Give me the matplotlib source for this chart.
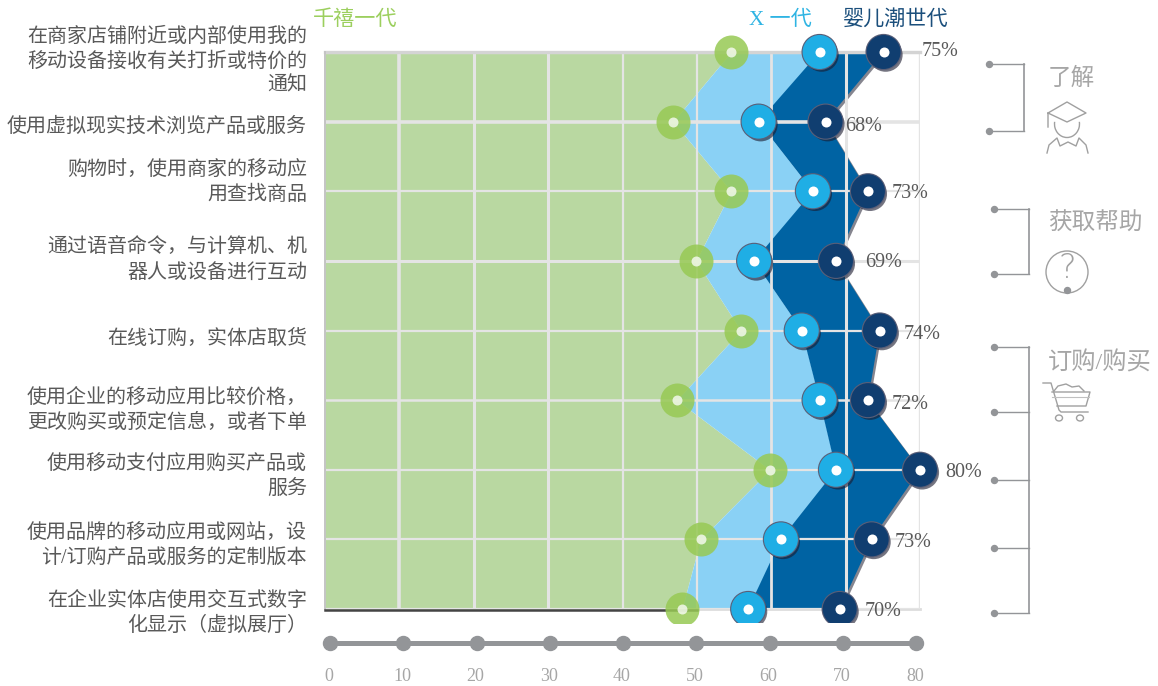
#!/usr/bin/env python

import numpy as np
import matplotlib
matplotlib.use("Agg")
import matplotlib.pyplot as plt
import matplotlib.patheffects as pe
from matplotlib.patches import Circle, Arc, Ellipse, Rectangle

plt.rcParams['font.family'] = ['Liberation Serif', 'Noto Sans CJK SC', 'DejaVu Sans']

categories = [
    "在商家店铺附近或内部使用我的\n移动设备接收有关打折或特价的\n通知",
    "使用虚拟现实技术浏览产品或服务",
    "购物时，使用商家的移动应\n用查找商品",
    "通过语音命令，与计算机、机\n器人或设备进行互动",
    "在线订购，实体店取货",
    "使用企业的移动应用比较价格，\n更改购买或预定信息，或者下单",
    "使用移动支付应用购买产品或\n服务",
    "使用品牌的移动应用或网站，设\n计/订购产品或服务的定制版本",
    "在企业实体店使用交互式数字\n化显示（虚拟展厅）",
]
millennials = [54.6, 46.8, 54.6, 49.9, 55.9, 47.3, 59.8, 50.5, 48.0]
gen_x = [66.5, 58.3, 65.6, 57.7, 64.1, 66.5, 68.7, 61.3, 56.9]
boomers = [75.1, 67.3, 73.0, 68.7, 74.6, 73.0, 80.0, 73.5, 69.2]
boomer_labels = ["75%", "68%", "73%", "69%", "74%", "72%", "80%", "73%", "70%"]
x_ticks = [0, 10, 20, 30, 40, 50, 60, 70, 80]

# layout, in pixels of the 1158x686 picture
W, H = 1158, 686
label_dy = [10, 6, -8, 0, 9, 11, 8, 7, 5]
value_dx = [38, 20, 24, 29, 24, 24, 25, 23, 25]
value_dy = [0, 5, 2, 2, 4, 4, 3, 3, 3]
grid_w = [2.6, 2.2, 2.2, 1.6, 1.6, 2.0, 2.2, 2.4]
row_w = [3, 2.6, 1.6, 2.2, 1.6, 1.8, 1.6, 1.6, 1.6]

GREY = "#939598"
TEXT = "#595959"
SOFT = "#a6a6a6"

def px(n):
    return n * 72.0 / 100

def rect(x0, y0, x1, y1):
    return [x0 / W, 1 - y1 / H, (x1 - x0) / W, (y1 - y0) / H]

def marker_glow():
    return [pe.SimplePatchShadow(offset=(1.5, -2), shadow_rgbFace="#1a1a2e", alpha=0.6),
            pe.Stroke(linewidth=1.6, foreground="#5a5f78"), pe.Normal()]

fig = plt.figure(figsize=(W / 100, H / 100), dpi=100, facecolor="white")

# overlay in picture pixels, for the side notes and icons
over = fig.add_axes([0, 0, 1, 1], zorder=5)
over.set_xlim(0, W)
over.set_ylim(H, 0)
over.axis("off")
over.patch.set_alpha(0)

ax = fig.add_axes(rect(325, 52, 920, 609), zorder=2)
ax.set_xlim(0, 80)
ax.set_ylim(8, 0)
ax.axis("off")
ax.patch.set_alpha(0)

rows = np.arange(len(categories))
soft_shadow = [pe.SimplePatchShadow(offset=(1.5, -1.5), shadow_rgbFace="#222233", alpha=0.55), pe.Normal()]

ax.fill_betweenx(rows, 0, millennials, color="#B9D8A1", lw=0, zorder=1)
ax.fill_betweenx(rows, millennials, gen_x, color="#8AD1F5", lw=0, zorder=1.1)
ax.fill_betweenx(rows, gen_x, boomers, color="#0063A3", lw=0, zorder=1.2,
                 path_effects=soft_shadow)

for t, w in zip(x_ticks[1:], grid_w):
    ax.axvline(t, color="#E4E4E4", lw=w, zorder=2)
for r, w in zip(rows, row_w):
    ax.plot([0, 80], [r, r], color="#E4E4E4", lw=w, zorder=2, solid_capstyle="butt")

# frame with its shadow, top and bottom edges
ax.plot([0, 80], [0, 0], color="#d4d4d4", lw=2.4, zorder=2.1, clip_on=False)
ax.plot([0, 0], [0, 8], color="#c4c4c4", lw=1.4, zorder=2.1, clip_on=False)
ax.plot([0, 50], [8.02, 8.02], color="#444444", lw=1.8, zorder=2.1, clip_on=False)
ax.plot([50, 80], [8.0, 8.0], color="#dddddd", lw=2, zorder=1.9, clip_on=False)

clip = Rectangle((300, 32), 700, 591, transform=over.transData)

ms = px(34)
green = ax.plot(millennials, rows, "o", ms=ms, mfc="#97C954", mec="none", alpha=0.85,
                zorder=3)[0]
blue = ax.plot(gen_x, rows, "o", ms=ms, mfc="#1FAEE5", mec="none", zorder=3.2,
               path_effects=marker_glow())[0]
dark = ax.plot(boomers, rows, "o", ms=ms, mfc="#103E70", mec="none", zorder=3.4,
               path_effects=marker_glow())[0]
for mark in (green, blue, dark):
    mark.set_clip_path(clip)
ax.plot(millennials, rows, "o", ms=px(10), mfc="white", mec="none", alpha=0.75, zorder=3.6, clip_on=False)
ax.plot(gen_x, rows, "o", ms=px(10), mfc="white", mec="none", zorder=3.6, clip_on=False)
ax.plot(boomers, rows, "o", ms=px(10), mfc="white", mec="none", zorder=3.6, clip_on=False)

for i, (cat, dy) in enumerate(zip(categories, label_dy)):
    ax.annotate(cat, (0, i), xytext=(px(-18), px(-dy)), textcoords="offset points",
                ha="right", va="center", fontsize=14.4, color=TEXT, linespacing=1.36,
                annotation_clip=False)
for i, (val, lab, dx, dy) in enumerate(zip(boomers, boomer_labels, value_dx, value_dy)):
    ax.annotate(lab, (val, i), xytext=(px(dx), px(-dy)), textcoords="offset points",
                ha="left", va="center", fontsize=14.5, color=TEXT, annotation_clip=False, zorder=6)

# series names
over.text(313, 20, "千禧一代", color="#9CCF5E", fontsize=15.2, ha="left", va="center")
over.text(749, 20, "X 一代", color="#2FB4E3", fontsize=15.2, ha="left", va="center")
over.text(843, 20, "婴儿潮世代", color="#1B4F7C", fontsize=15.2, ha="left", va="center")

# bottom scale
scale = fig.add_axes(rect(330, 630, 916, 655), zorder=1)
scale.set_xlim(0, 80)
scale.set_ylim(-1, 1)
scale.axis("off")
scale.plot(x_ticks, [0] * len(x_ticks), "-o", color=GREY, lw=px(5), ms=px(14), clip_on=False)
for t in x_ticks:
    scale.annotate(str(t), (t, 0), xytext=(px(-1), px(-34)), textcoords="offset points",
                   ha="center", va="center", fontsize=13, color=SOFT, annotation_clip=False)

# brackets on the right
def bracket(x0, x1, ys):
    over.plot([x1, x1], [ys[0], ys[-1]], color=GREY, lw=1.2)
    for y in ys:
        over.plot([x0, x1], [y, y], color=GREY, lw=1.0)
        over.plot([x0], [y], "o", color=GREY, ms=px(6))

bracket(989, 1024, [64, 131])
bracket(994, 1029, [209, 274])
bracket(994, 1029, [347, 412, 480, 548, 613])

over.text(1048, 79, "了解", color=SOFT, fontsize=17, ha="left", va="center")
over.text(1048, 224, "获取帮助", color=SOFT, fontsize=17, ha="left", va="center")
over.text(1048, 363, "订购/购买", color=SOFT, fontsize=17.5, ha="left", va="center")

ICON = dict(color="#a0a0a0", lw=1.0)

# person with cap
over.plot([1048, 1067, 1086, 1067, 1048, 1048], [113, 102, 113, 122, 113, 127], **ICON)
over.add_patch(Arc((1067, 124), 25, 27, theta1=-10, theta2=190, fill=False, ec="#a0a0a0", lw=1.0))
over.plot([1047, 1049, 1057, 1060, 1068, 1076, 1079, 1086, 1088],
          [153, 145, 138, 146, 142, 146, 138, 145, 153], **ICON)

# question mark in a circle
over.add_patch(Circle((1067, 272), 21, fill=False, ec="#a0a0a0", lw=1.0))
over.text(1067, 269, "?", color="#a0a0a0", fontsize=24, ha="center", va="center",
          family="DejaVu Sans", fontweight="ultralight")
over.plot([1067], [290], "o", color=GREY, ms=px(6))

# cart
over.plot([1043, 1051, 1059, 1061, 1088], [383, 383, 410, 412, 412], **ICON)
over.plot([1052, 1090, 1086, 1057], [392, 392, 406, 406], **ICON)
over.plot([1052, 1089], [397, 397], color="#c0c0c0", lw=0.8)
over.plot([1054, 1058, 1066, 1072, 1079, 1084], [391, 386, 384, 387, 386, 391], **ICON)
over.add_patch(Ellipse((1059, 418), 7, 6, fill=False, ec="#a0a0a0", lw=1.0))
over.add_patch(Ellipse((1080, 418), 7, 6, fill=False, ec="#a0a0a0", lw=1.0))

fig.savefig("out.png", dpi=100, facecolor="white")
